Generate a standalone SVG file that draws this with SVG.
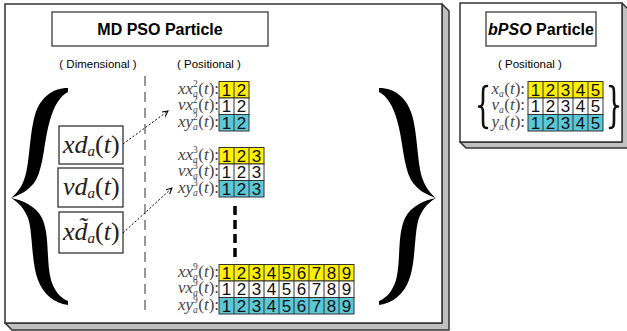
<svg xmlns="http://www.w3.org/2000/svg" width="627" height="331" viewBox="0 0 627 331">
<defs>
<style>
.face{fill:#fff;stroke:#333;stroke-width:1.5}
.side{fill:#c0c0c0;stroke:#333;stroke-width:1.5;stroke-linejoin:round}
.tbox{fill:#fff;stroke:#555;stroke-width:1.5}
.tt{font-family:"Liberation Sans",Arial,sans-serif;font-weight:bold;font-size:16px;text-anchor:middle;fill:#000}
.cap{font-family:"Liberation Sans",Arial,sans-serif;font-size:11.5px;text-anchor:middle;fill:#000}
.dbox{fill:#fff;stroke:#222;stroke-width:1.2}
.md{font-family:"Liberation Serif","Times New Roman",serif;font-style:italic;font-size:26px;fill:#222}
.lb{font-family:"Liberation Serif","Times New Roman",serif;font-style:italic;font-size:17px;fill:#444}
.sm{font-size:9.5px}
.u{font-style:normal}
.cy{fill:#FFF000;stroke:#333;stroke-width:1}
.cw{fill:#fff;stroke:#333;stroke-width:1}
.cc{fill:#5BC8D8;stroke:#333;stroke-width:1}
.sep{stroke:#333;stroke-width:1;fill:none}
.dg{font-family:"Liberation Sans",Arial,sans-serif;font-size:17px;text-anchor:middle;fill:#111}
.brace{fill:#000}
.sbrace{fill:none;stroke:#111;stroke-width:2.6;stroke-linecap:round;stroke-linejoin:round}
.arr{fill:none;stroke:#000;stroke-width:1;stroke-dasharray:2 2}
</style>
<marker id="ah" markerWidth="9" markerHeight="9" refX="6" refY="3" orient="auto" markerUnits="userSpaceOnUse">
<path d="M0,0 L6,3 L0,6" fill="none" stroke="#000" stroke-width="1"/>
</marker>
<path id="bigbrace" d="M68,88 C52,88 40,98 35,115 C29,135 30,165 24,180 C21,188 16,194 11,198 C18,202 24,208 28,218 C33,232 31,262 38,280 C43,294 54,303 68,305 L68,301 C60,298 54,290 51,280 C46,262 50,235 42,218 C36,206 22,200 11,198 C20,195 30,190 36,180 C44,165 44,140 50,120 C54,106 60,96 68,92 Z"/>
</defs>

<g id="mdpso-panel">
<polygon class="side" points="442,4 449,11 449,330 12,330 5,323 442,323"/>
<rect class="face" x="5" y="4" width="437" height="319"/>
</g>
<g id="mdpso-title">
<rect class="tbox" x="52" y="12" width="216" height="34"/>
<text class="tt" x="160" y="35">MD PSO Particle</text>
</g>
<g id="captions">
<text class="cap" x="98" y="68">( Dimensional )</text>
<text class="cap" x="209" y="68">( Positional )</text>
</g>
<g id="divider">
<line x1="145" y1="76" x2="145" y2="313" stroke="#777" stroke-width="1.5" stroke-dasharray="10 6"/>
</g>
<g id="left-brace"><use href="#bigbrace" class="brace"/></g>
<g id="right-brace"><use href="#bigbrace" class="brace" transform="translate(447,0) scale(-1,1)"/></g>

<g id="xd-box">
<rect class="dbox" x="59" y="126" width="64" height="38"/>
<text class="md" x="63" y="153">xd<tspan font-size="15" dy="3">a</tspan><tspan class="u" dy="-3">(</tspan>t<tspan class="u">)</tspan></text>
</g>
<g id="vd-box">
<rect class="dbox" x="58" y="168" width="65" height="39"/>
<text class="md" x="63" y="195">vd<tspan font-size="15" dy="3">a</tspan><tspan class="u" dy="-3">(</tspan>t<tspan class="u">)</tspan></text>
</g>
<g id="xdtilde-box">
<rect class="dbox" x="59" y="212" width="64" height="41"/>
<text class="md" x="63" y="240">xd̃<tspan font-size="15" dy="3">a</tspan><tspan class="u" dy="-3">(</tspan>t<tspan class="u">)</tspan></text>
</g>

<g id="connectors">
<path class="arr" d="M123,144 L168,111" marker-end="url(#ah)"/>
<path class="arr" d="M123,233 L172,188" marker-end="url(#ah)"/>
<line x1="235" y1="206" x2="235" y2="257" stroke="#000" stroke-width="3.5" stroke-dasharray="9 5"/>
</g>

<g id="pos-2">
<rect class="cy" x="219" y="81.5" width="30" height="16.5"/>
<rect class="cw" x="219" y="98" width="30" height="16.5"/>
<rect class="cc" x="219" y="114.5" width="30" height="16.5"/>
<path class="sep" d="M234,81.5 V131"/>
<text class="dg" x="226.5 241.5" y="95.8">12</text>
<text class="dg" x="226.5 241.5" y="112.3">12</text>
<text class="dg" x="226.5 241.5" y="128.8">12</text>
<text class="lb" x="178" y="93.5">xx<tspan class="sm u" dy="-7">2</tspan><tspan class="sm" dx="-4.8" dy="10">a</tspan><tspan class="u" dx="0.5" dy="-3">(</tspan>t<tspan class="u">):</tspan></text>
<text class="lb" x="178" y="110">vx<tspan class="sm u" dy="-7">2</tspan><tspan class="sm" dx="-4.8" dy="10">a</tspan><tspan class="u" dx="0.5" dy="-3">(</tspan>t<tspan class="u">):</tspan></text>
<text class="lb" x="178" y="126.5">xy<tspan class="sm u" dy="-7">2</tspan><tspan class="sm" dx="-4.8" dy="10">a</tspan><tspan class="u" dx="0.5" dy="-3">(</tspan>t<tspan class="u">):</tspan></text>
</g>

<g id="pos-3">
<rect class="cy" x="219" y="147.5" width="45" height="16.5"/>
<rect class="cw" x="219" y="164" width="45" height="16.5"/>
<rect class="cc" x="219" y="180.5" width="45" height="16.5"/>
<path class="sep" d="M234,147.5 V197 M249,147.5 V197"/>
<text class="dg" x="226.5 241.5 256.5" y="161.8">123</text>
<text class="dg" x="226.5 241.5 256.5" y="178.3">123</text>
<text class="dg" x="226.5 241.5 256.5" y="194.8">123</text>
<text class="lb" x="178" y="159.5">xx<tspan class="sm u" dy="-7">3</tspan><tspan class="sm" dx="-4.8" dy="10">a</tspan><tspan class="u" dx="0.5" dy="-3">(</tspan>t<tspan class="u">):</tspan></text>
<text class="lb" x="178" y="176">vx<tspan class="sm u" dy="-7">3</tspan><tspan class="sm" dx="-4.8" dy="10">a</tspan><tspan class="u" dx="0.5" dy="-3">(</tspan>t<tspan class="u">):</tspan></text>
<text class="lb" x="178" y="192.5">xy<tspan class="sm u" dy="-7">3</tspan><tspan class="sm" dx="-4.8" dy="10">a</tspan><tspan class="u" dx="0.5" dy="-3">(</tspan>t<tspan class="u">):</tspan></text>
</g>

<g id="pos-9">
<rect class="cy" x="219" y="264.5" width="135" height="16.5"/>
<rect class="cw" x="219" y="281" width="135" height="16.5"/>
<rect class="cc" x="219" y="297.5" width="135" height="16.5"/>
<path class="sep" d="M234,264.5 V314 M249,264.5 V314 M264,264.5 V314 M279,264.5 V314 M294,264.5 V314 M309,264.5 V314 M324,264.5 V314 M339,264.5 V314"/>
<text class="dg" x="226.5 241.5 256.5 271.5 286.5 301.5 316.5 331.5 346.5" y="278.8">123456789</text>
<text class="dg" x="226.5 241.5 256.5 271.5 286.5 301.5 316.5 331.5 346.5" y="295.3">123456789</text>
<text class="dg" x="226.5 241.5 256.5 271.5 286.5 301.5 316.5 331.5 346.5" y="311.8">123456789</text>
<text class="lb" x="178" y="276.5">xx<tspan class="sm u" dy="-7">9</tspan><tspan class="sm" dx="-4.8" dy="10">a</tspan><tspan class="u" dx="0.5" dy="-3">(</tspan>t<tspan class="u">):</tspan></text>
<text class="lb" x="178" y="293">vx<tspan class="sm u" dy="-7">9</tspan><tspan class="sm" dx="-4.8" dy="10">a</tspan><tspan class="u" dx="0.5" dy="-3">(</tspan>t<tspan class="u">):</tspan></text>
<text class="lb" x="178" y="309.5">xy<tspan class="sm u" dy="-7">9</tspan><tspan class="sm" dx="-4.8" dy="10">a</tspan><tspan class="u" dx="0.5" dy="-3">(</tspan>t<tspan class="u">):</tspan></text>
</g>

<g id="bpso-panel">
<polygon class="side" points="622,3 628,9 628,148 466,148 460,142 622,142"/>
<rect class="face" x="460" y="3" width="162" height="139"/>
</g>
<g id="bpso-title">
<rect class="tbox" x="486" y="12" width="110" height="34"/>
<text class="tt" x="541" y="35"><tspan font-style="italic">bPSO</tspan> Particle</text>
</g>
<g id="bpso-caption">
<text class="cap" x="530" y="68">( Positional )</text>
</g>
<g id="bpso-array">
<rect class="cy" x="528" y="81.5" width="75" height="16.5"/>
<rect class="cw" x="528" y="98" width="75" height="16.5"/>
<rect class="cc" x="528" y="114.5" width="75" height="16.5"/>
<path class="sep" d="M543,81.5 V131 M558,81.5 V131 M573,81.5 V131 M588,81.5 V131"/>
<text class="dg" x="535.5 550.5 565.5 580.5 595.5" y="95.8">12345</text>
<text class="dg" x="535.5 550.5 565.5 580.5 595.5" y="112.3">12345</text>
<text class="dg" x="535.5 550.5 565.5 580.5 595.5" y="128.8">12345</text>
<text class="lb" x="491.5" y="93.5">x<tspan class="sm" dy="3">a</tspan><tspan class="u" dx="0.5" dy="-3">(</tspan>t<tspan class="u">):</tspan></text>
<text class="lb" x="491.5" y="110">v<tspan class="sm" dy="3">a</tspan><tspan class="u" dx="0.5" dy="-3">(</tspan>t<tspan class="u">):</tspan></text>
<text class="lb" x="491.5" y="126.5">y<tspan class="sm" dy="3">a</tspan><tspan class="u" dx="0.5" dy="-3">(</tspan>t<tspan class="u">):</tspan></text>
</g>
<g id="bpso-left-brace">
<path class="sbrace" d="M487,86 C483,86 483,89 483,94 L483,101 C483,105 482,106.5 479,106.5 C482,106.5 483,108 483,112 L483,120 C483,125 483,128 487,128"/>
</g>
<g id="bpso-right-brace">
<path class="sbrace" d="M487,86 C483,86 483,89 483,94 L483,101 C483,105 482,106.5 479,106.5 C482,106.5 483,108 483,112 L483,120 C483,125 483,128 487,128" transform="translate(1097,0) scale(-1,1)"/>
</g>
</svg>
